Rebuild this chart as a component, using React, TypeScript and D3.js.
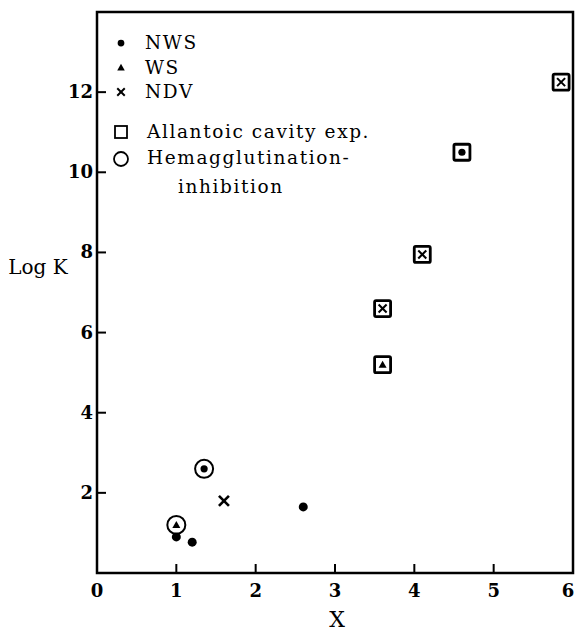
import React from 'react';
import * as d3 from 'd3';

// strain: NWS = dot, WS = triangle, NDV = cross
// method: plain, allantoic (square), hi (circle)
const pointX = [1.0, 1.2, 2.6, 1.6, 1.0, 1.35, 3.6, 3.6, 4.1, 4.6, 5.85];
const pointY = [0.9, 0.77, 1.65, 1.8, 1.2, 2.6, 5.2, 6.6, 7.95, 10.5, 12.25];
const pointStrain = ['NWS', 'NWS', 'NWS', 'NDV', 'WS', 'NWS', 'WS', 'NDV', 'NDV', 'NWS', 'NDV'];
const pointMethod = ['plain', 'plain', 'plain', 'plain', 'hi', 'hi', 'allantoic', 'allantoic', 'allantoic', 'allantoic', 'allantoic'];

const xTicks = [0, 1, 2, 3, 4, 5, 6];
const yTicks = [2, 4, 6, 8, 10, 12];

const legendStrains = ['NWS', 'WS', 'NDV'];
const legendMethods = ['Allantoic cavity exp.', 'Hemagglutination-'];

const W = 576;
const H = 632;
const left = 97;
const right = 573;
const top = 12;
const bottom = 573;

const font = '"DejaVu Serif", serif';

const Glyph = ({ kind, x, y, s }: { kind: string; x: number; y: number; s: number }) => {
  if (kind === 'NWS') return <circle cx={x} cy={y} r={4.5 * s} fill="#000" />;
  if (kind === 'WS') {
    const p = d3.path();
    p.moveTo(x, y - 5 * s);
    p.lineTo(x + 5 * s, y + 4 * s);
    p.lineTo(x - 5 * s, y + 4 * s);
    p.closePath();
    return <path d={p.toString()} fill="#000" />;
  }
  const d = 5 * s;
  return (
    <g stroke="#000" strokeWidth={2.6 * s} strokeLinecap="butt">
      <line x1={x - d} y1={y - d} x2={x + d} y2={y + d} />
      <line x1={x - d} y1={y + d} x2={x + d} y2={y - d} />
    </g>
  );
};

export default function App() {
  const x = d3.scaleLinear().domain([0, 6]).range([left, right]);
  const y = d3.scaleLinear().domain([0, 14]).range([bottom, top]);

  return (
    <svg width={W} height={H} style={{ position: 'absolute', left: 0, top: 0, background: '#fff' }}>
      <rect x={left} y={top} width={right - left} height={bottom - top} fill="none" stroke="#000" strokeWidth={2.5} />
      {xTicks.map((t) => (
        <g key={'x' + t}>
          {t > 0 && t < 6 && <line x1={x(t)} x2={x(t)} y1={bottom} y2={bottom - 9} stroke="#000" strokeWidth={2} />}
          <text
            x={t === 6 ? x(t) - 5 : x(t)}
            y={bottom + 24}
            textAnchor="middle"
            fontFamily={font}
            fontWeight="bold"
            fontSize={18}
          >
            {t}
          </text>
        </g>
      ))}
      {yTicks.map((t) => (
        <g key={'y' + t}>
          <line x1={left} x2={left + 9} y1={y(t)} y2={y(t)} stroke="#000" strokeWidth={2} />
          <text x={left - 4} y={y(t) + 6} textAnchor="end" fontFamily={font} fontWeight="bold" fontSize={18}>
            {t}
          </text>
        </g>
      ))}
      <text x={38} y={274} textAnchor="middle" fontFamily={font} fontSize={20}>
        Log K
      </text>
      <text x={337} y={627} textAnchor="middle" fontFamily={font} fontSize={22}>
        X
      </text>

      {pointX.map((px, i) => {
        const cx = x(px);
        const cy = y(pointY[i]);
        const m = pointMethod[i];
        return (
          <g key={'p' + i}>
            {m === 'allantoic' && (
              <rect x={cx - 8} y={cy - 8} width={16} height={16} rx={1.5} fill="none" stroke="#000" strokeWidth={2.8} />
            )}
            {m === 'hi' && <circle cx={cx} cy={cy} r={9} fill="none" stroke="#000" strokeWidth={2} />}
            <Glyph kind={pointStrain[i]} x={cx} y={cy} s={m === 'plain' ? 1 : 0.8} />
          </g>
        );
      })}

      {legendStrains.map((s, i) => (
        <g key={'ls' + s}>
          <Glyph kind={s} x={121} y={43 + i * 24.5} s={0.75} />
          <text x={145} y={49 + i * 24.5} fontFamily={font} fontSize={18.5} letterSpacing={1.6}>
            {s}
          </text>
        </g>
      ))}
      <rect x={115} y={126} width={12} height={12} fill="none" stroke="#000" strokeWidth={1.8} />
      <circle cx={121} cy={159} r={7} fill="none" stroke="#000" strokeWidth={1.8} />
      {legendMethods.map((s, i) => (
        <text key={'lm' + i} x={147} y={138 + i * 26} fontFamily={font} fontSize={18.5} letterSpacing={1.6}>
          {s}
        </text>
      ))}
      <text x={178} y={193} fontFamily={font} fontSize={18.5} letterSpacing={1.6}>
        inhibition
      </text>
    </svg>
  );
}
